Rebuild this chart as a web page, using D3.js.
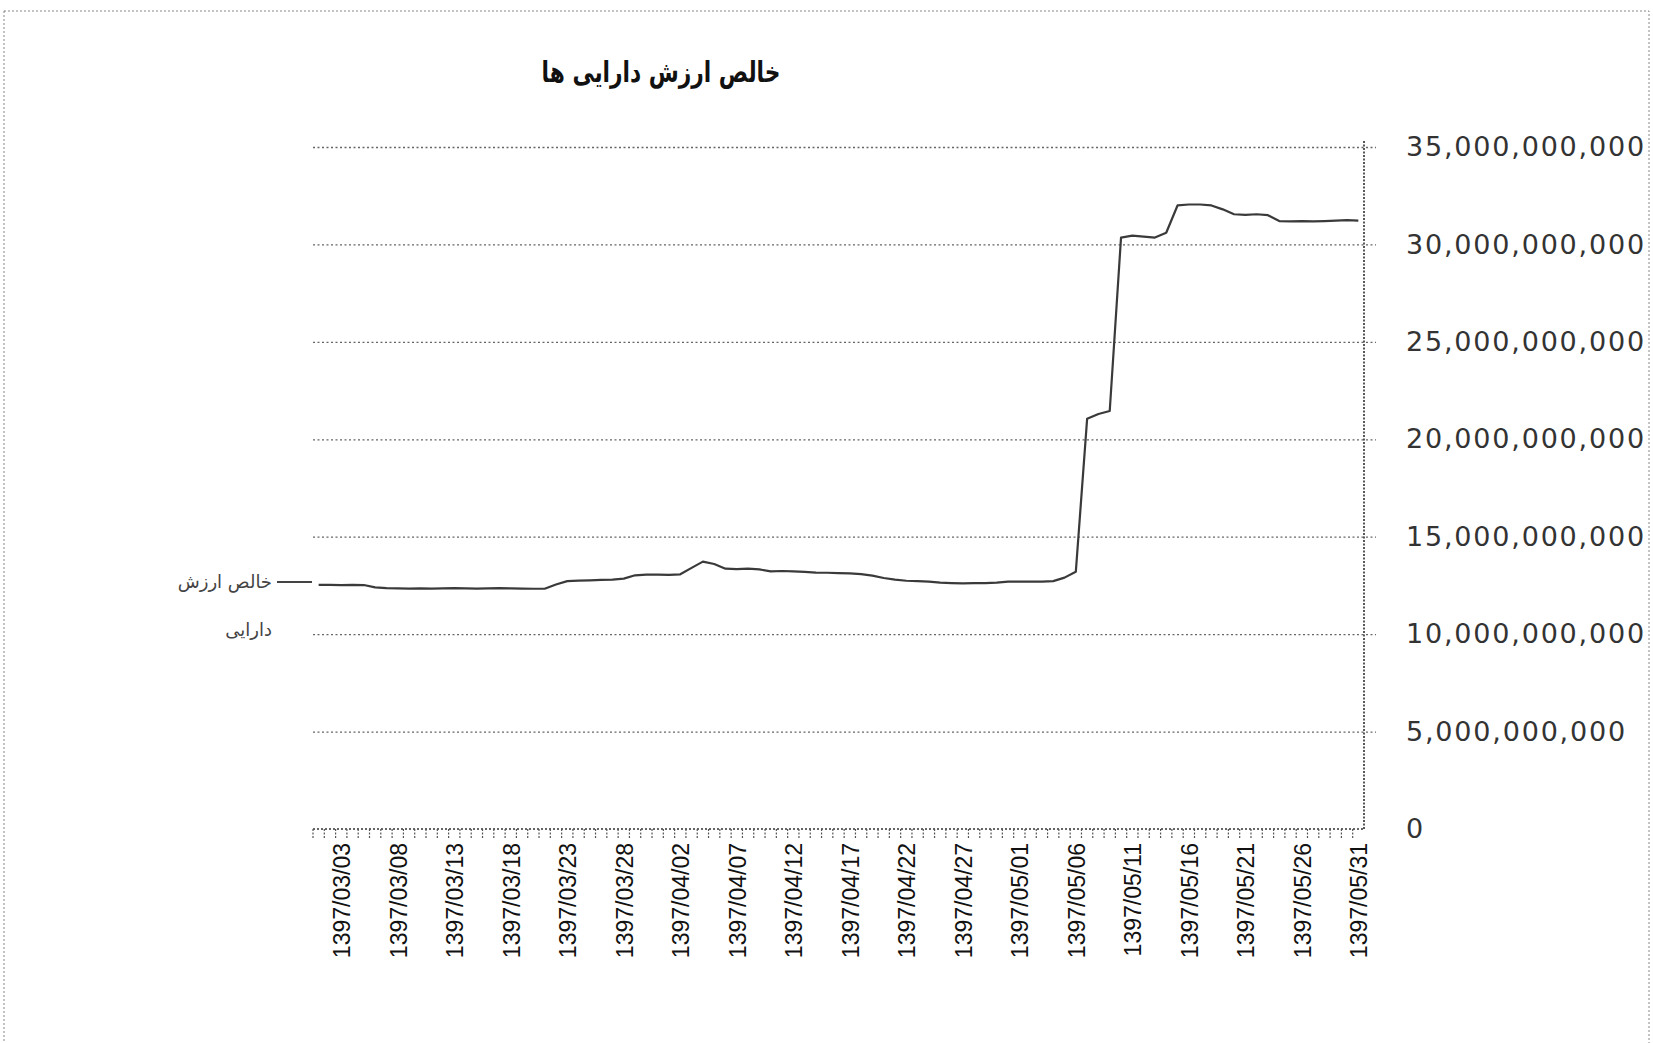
<!DOCTYPE html>
<html>
<head>
<meta charset="utf-8">
<script src="https://cdn.jsdelivr.net/npm/d3@7"></script>
<style>
  body { margin: 0; background: #fff; }
</style>
</head>
<body>
<div id="chart"></div>
<script>
// categories: every day from 1397/03/01 to 1397/05/31
var dates = [
  "1397/03/01","1397/03/02","1397/03/03","1397/03/04","1397/03/05","1397/03/06","1397/03/07","1397/03/08","1397/03/09","1397/03/10",
  "1397/03/11","1397/03/12","1397/03/13","1397/03/14","1397/03/15","1397/03/16","1397/03/17","1397/03/18","1397/03/19","1397/03/20",
  "1397/03/21","1397/03/22","1397/03/23","1397/03/24","1397/03/25","1397/03/26","1397/03/27","1397/03/28","1397/03/29","1397/03/30",
  "1397/03/31","1397/04/01","1397/04/02","1397/04/03","1397/04/04","1397/04/05","1397/04/06","1397/04/07","1397/04/08","1397/04/09",
  "1397/04/10","1397/04/11","1397/04/12","1397/04/13","1397/04/14","1397/04/15","1397/04/16","1397/04/17","1397/04/18","1397/04/19",
  "1397/04/20","1397/04/21","1397/04/22","1397/04/23","1397/04/24","1397/04/25","1397/04/26","1397/04/27","1397/04/28","1397/04/29",
  "1397/04/30","1397/04/31","1397/05/01","1397/05/02","1397/05/03","1397/05/04","1397/05/05","1397/05/06","1397/05/07","1397/05/08",
  "1397/05/09","1397/05/10","1397/05/11","1397/05/12","1397/05/13","1397/05/14","1397/05/15","1397/05/16","1397/05/17","1397/05/18",
  "1397/05/19","1397/05/20","1397/05/21","1397/05/22","1397/05/23","1397/05/24","1397/05/25","1397/05/26","1397/05/27","1397/05/28",
  "1397/05/29","1397/05/30","1397/05/31"
];

// net asset value, billions of rials
var navBillions = [
  12.53, 12.53, 12.52, 12.53, 12.52, 12.40, 12.36, 12.35, 12.34, 12.35,
  12.34, 12.35, 12.36, 12.35, 12.34, 12.35, 12.36, 12.35, 12.34, 12.33,
  12.33, 12.55, 12.72, 12.75, 12.76, 12.78, 12.80, 12.85, 13.02, 13.05,
  13.05, 13.04, 13.07, 13.40, 13.72, 13.60, 13.36, 13.34, 13.36, 13.32,
  13.22, 13.24, 13.22, 13.20, 13.16, 13.15, 13.13, 13.12, 13.08, 13.00,
  12.88, 12.80, 12.74, 12.72, 12.70, 12.64, 12.62, 12.61, 12.62, 12.62,
  12.64, 12.70, 12.70, 12.70, 12.70, 12.72, 12.90, 13.20, 21.05, 21.30,
  21.45, 30.35, 30.45, 30.40, 30.35, 30.60, 32.00, 32.05, 32.05, 32.00,
  31.80, 31.55, 31.52, 31.55, 31.50, 31.20, 31.18, 31.20, 31.18, 31.20,
  31.22, 31.25, 31.22
];

var xTickLabels = [
  "1397/03/03","1397/03/08","1397/03/13","1397/03/18","1397/03/23","1397/03/28","1397/04/02",
  "1397/04/07","1397/04/12","1397/04/17","1397/04/22","1397/04/27","1397/05/01","1397/05/06",
  "1397/05/11","1397/05/16","1397/05/21","1397/05/26","1397/05/31"
];
var yTicks = [0, 5e9, 10e9, 15e9, 20e9, 25e9, 30e9, 35e9];

var chartTitle = "خالص ارزش دارایی ها";
var legendLines = ["خالص ارزش", "دارایی"];

var svgWidth = 1653;
var svgHeight = 1043;

var plot = { left: 313, right: 1364, top: 147, bottom: 829 };

var svg = d3.select("#chart")
  .append("svg")
  .attr("width", svgWidth)
  .attr("height", svgHeight)
  .style("font-family", "'DejaVu Sans', sans-serif");

// scanned-looking outer border
svg.append("rect")
  .attr("x", 4)
  .attr("y", 11)
  .attr("width", 1645)
  .attr("height", 1100)
  .attr("fill", "none")
  .attr("stroke", "#888")
  .attr("stroke-width", 1)
  .attr("stroke-dasharray", "2,2");

var xBand = d3.scaleBand()
  .domain(dates)
  .range([plot.left, plot.right]);

var xPoint = d3.scalePoint()
  .domain(dates)
  .range([plot.left, plot.right])
  .padding(0.5);

var yScale = d3.scaleLinear()
  .domain([0, 35e9])
  .range([plot.bottom, plot.top]);

// gridlines, running a little past the y axis as outside ticks
var yAxis = d3.axisRight(yScale)
  .tickValues(yTicks.slice(1))
  .tickSize(-(plot.right - plot.left))
  .tickFormat("");

var gridG = svg.append("g")
  .attr("transform", `translate(${plot.right}, 0)`)
  .call(yAxis);
gridG.select(".domain").remove();
gridG.selectAll(".tick line")
  .attr("x2", 12)
  .attr("x1", -(plot.right - plot.left))
  .attr("stroke", "#666")
  .attr("stroke-width", 1.3)
  .attr("stroke-dasharray", "2,2.5");

var yLabelG = svg.append("g")
  .attr("transform", `translate(1406, 0)`)
  .call(d3.axisRight(yScale).tickValues(yTicks).tickSize(0).tickPadding(0).tickFormat(d3.format(",")));
yLabelG.select(".domain").remove();
yLabelG.selectAll("text")
  .attr("font-family", "'DejaVu Sans', sans-serif")
  .attr("font-size", 27)
  .attr("letter-spacing", 1.8)
  .attr("fill", "#333");

// y axis line
svg.append("line")
  .attr("x1", plot.right).attr("x2", plot.right)
  .attr("y1", plot.top - 6).attr("y2", plot.bottom)
  .attr("stroke", "#222")
  .attr("stroke-width", 1.5)
  .attr("stroke-dasharray", "2,1.5");

// x axis: line, a tick at every category edge
svg.append("line")
  .attr("x1", plot.left).attr("x2", plot.right)
  .attr("y1", plot.bottom).attr("y2", plot.bottom)
  .attr("stroke", "#333")
  .attr("stroke-width", 1.5)
  .attr("stroke-dasharray", "2,2");

svg.append("g")
  .selectAll("line")
  .data(dates)
  .enter()
  .append("line")
  .attr("x1", d => xBand(d))
  .attr("x2", d => xBand(d))
  .attr("y1", plot.bottom)
  .attr("y2", plot.bottom + 10)
  .attr("stroke", "#555")
  .attr("stroke-width", 1.2)
  .attr("stroke-dasharray", "2,1.5");

var xAxis = d3.axisBottom(xPoint)
  .tickValues(xTickLabels)
  .tickSize(0);

var xAxisG = svg.append("g")
  .attr("transform", `translate(0, ${plot.bottom})`)
  .call(xAxis);
xAxisG.select(".domain").remove();
xAxisG.selectAll("text")
  .attr("font-family", "'Liberation Sans', Arial, sans-serif")
  .attr("font-size", 23)
  .attr("fill", "#111")
  .attr("text-anchor", "end")
  .attr("transform", "translate(0, 14) rotate(-90)")
  .attr("x", 0)
  .attr("y", 0)
  .attr("dy", "0.36em");

// the line
var line = d3.line()
  .x((d, i) => xPoint(dates[i]))
  .y(d => yScale(d * 1e9));

svg.append("path")
  .datum(navBillions)
  .attr("fill", "none")
  .attr("stroke", "#3a3a3a")
  .attr("stroke-width", 2.2)
  .attr("stroke-linejoin", "round")
  .attr("d", line);

// title (narrow, heavy look of the original font)
svg.append("text")
  .attr("transform", "translate(661, 72) scale(0.75, 1)")
  .attr("dy", "0.35em")
  .attr("text-anchor", "middle")
  .attr("direction", "rtl")
  .attr("font-size", 29)
  .attr("font-weight", "bold")
  .attr("fill", "#111")
  .text(chartTitle);

// legend on the left
var legendG = svg.append("g");
legendG.selectAll("text")
  .data(legendLines)
  .enter()
  .append("text")
  .attr("x", 272)
  .attr("y", (d, i) => 582 + i * 48)
  .attr("dy", "0.35em")
  .attr("text-anchor", "end")
  .attr("font-size", 18)
  .attr("fill", "#444")
  .text(d => d);

legendG.append("line")
  .attr("x1", 277).attr("x2", 312)
  .attr("y1", 582).attr("y2", 582)
  .attr("stroke", "#444")
  .attr("stroke-width", 2.2);
</script>
</body>
</html>
